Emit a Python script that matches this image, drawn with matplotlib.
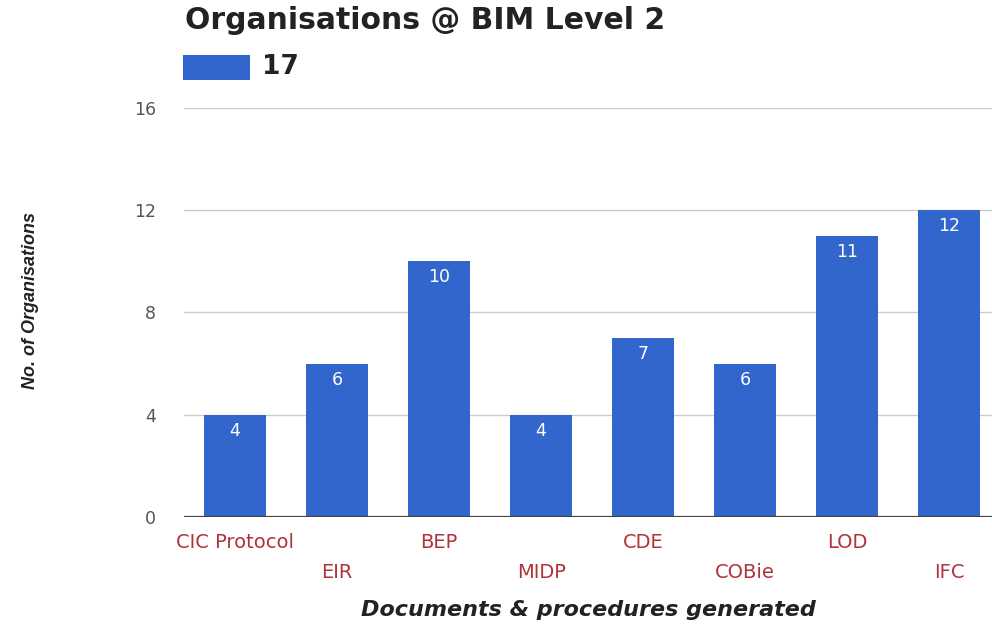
import numpy as np
import matplotlib
matplotlib.use("Agg")
import matplotlib.pyplot as plt
import matplotlib.transforms as mtransforms
from matplotlib.patches import Rectangle

plt.rcParams["font.family"] = ["DejaVu Sans"]

CATEGORIES = ["CIC Protocol", "EIR", "BEP", "MIDP", "CDE", "COBie", "LOD", "IFC"]
COUNTS = [4, 6, 10, 4, 7, 6, 11, 12]
Y_TICKS = [0, 4, 8, 12, 16]
SERIES_NAME = "17"
TITLE = "Organisations @ BIM Level 2"

BLUE = "#3366cc"
RED = "#b0323a"

fig = plt.figure(figsize=(9.92, 6.26), dpi=100)
ax = fig.add_axes([0.1855, 0.1741, 0.8145, 0.6534])

x = np.arange(len(CATEGORIES))
ax.bar(x, COUNTS, width=0.61, color=BLUE, zorder=3)

# value labels inside bar tops
for xi, v in zip(x, COUNTS):
    ax.annotate(str(v), (xi, v), xytext=(0, -5), textcoords="offset points",
                ha="center", va="top", color="white", fontsize=12.5, zorder=4)

ax.set_xlim(-0.5, 7.42)
ax.set_ylim(0, 16)
ax.set_yticks(Y_TICKS)
ax.tick_params(axis="y", length=0, pad=20, labelsize=12.5, labelcolor="#555555")
ax.set_xticks([])
for y in Y_TICKS[1:]:
    ax.axhline(y, color="#cccccc", lw=1, zorder=1)
ax.axhline(0, color="#444444", lw=1.6, zorder=4)
for s in ax.spines.values():
    s.set_visible(False)

# staggered red category labels
trans = mtransforms.blended_transform_factory(ax.transData, ax.transAxes)
for i, name in enumerate(CATEGORIES):
    yy = -0.062 if i % 2 == 0 else -0.135
    ax.text(i, yy, name, transform=trans, ha="center", va="center",
            color=RED, fontsize=14, clip_on=False)

ax.text(0.5, -0.228, "Documents & procedures generated", transform=ax.transAxes,
        ha="center", va="center", fontsize=16, fontweight="bold", style="italic",
        color="#222222")
fig.text(0.031, 0.52, "No. of Organisations", rotation=90, ha="center", va="center",
         fontsize=13, fontweight="bold", style="italic", color="#222222",
         family="Liberation Sans")

# title and legend
fig.text(0.186, 0.968, TITLE, ha="left", va="center", fontsize=21.5,
         fontweight="bold", color="#222222")
fig.patches.append(Rectangle((0.1845, 0.872), 0.068, 0.04, transform=fig.transFigure,
                             facecolor=BLUE, edgecolor="none"))
fig.text(0.264, 0.893, SERIES_NAME, ha="left", va="center", fontsize=19,
         fontweight="bold", color="#222222")

fig.savefig("out.png", dpi=100)
